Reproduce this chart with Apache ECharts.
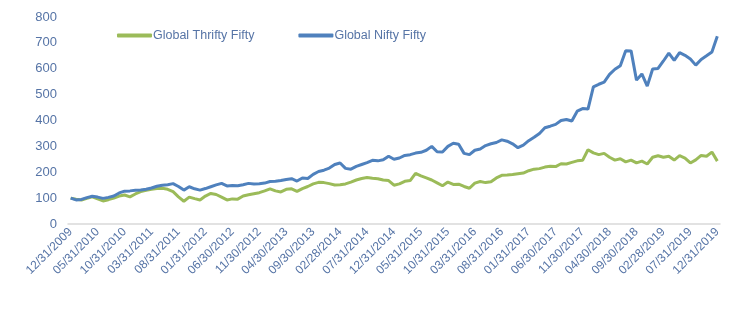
<!DOCTYPE html>
<html>
<head>
<meta charset="utf-8">
<script src="https://cdn.jsdelivr.net/npm/echarts@6/dist/echarts.min.js"></script>
<style>
html,body{margin:0;padding:0;background:#fff;}
#chart{width:751px;height:322px;}
</style>
</head>
<body>
<div id="chart"></div>
<script>
// Month-end dates 12/31/2009 .. 12/31/2019
function monthEnds(startYear, startMonth, count) {
  var out = [];
  for (var k = 0; k < count; k++) {
    var m = startMonth + k;
    var y = startYear + Math.floor(m / 12);
    var mm = m % 12;
    var last = new Date(Date.UTC(y, mm + 1, 0)).getUTCDate();
    out.push(String(mm + 1).padStart(2, '0') + '/' + String(last).padStart(2, '0') + '/' + y);
  }
  return out;
}
var categories = monthEnds(2009, 11, 121);

var seriesNames = ['Global Thrifty Fifty', 'Global Nifty Fifty'];

var thriftyValues = [
  100, 96, 93, 99, 105, 97, 89, 94, 100, 108,
  112, 105, 116, 125, 130, 134, 137, 138, 134, 125,
  105, 88, 104, 98, 93, 108, 118, 114, 104, 93,
  97, 96, 108, 113, 117, 121, 128, 136, 128, 124,
  134, 136, 126, 137, 145, 155, 161, 160, 156, 151,
  152, 155, 162, 170, 176, 180, 177, 175, 170, 168,
  150, 155, 165, 168, 196, 186, 178, 170, 159, 148,
  162, 153, 154, 145, 138, 158, 164, 160, 163, 178,
  188, 189, 191, 194, 197, 206, 212, 214, 220, 223,
  222, 233, 232, 238, 244, 246, 287, 275, 268, 273,
  258, 247, 252, 240, 247, 236, 243, 232, 258, 264,
  258, 262, 247, 264, 255, 236, 248, 265, 262, 278,
  243
];

var niftyValues = [
  100, 93, 95, 102, 107, 104, 99, 103, 108, 120,
  127, 128, 130, 131, 134, 139, 146, 150, 152, 156,
  145, 131, 144, 136, 131, 137, 144, 151, 157, 147,
  149, 148, 152, 157, 155, 156, 158, 164, 165, 168,
  172, 175, 166, 178, 176, 192, 203, 208, 216, 230,
  236, 215, 212, 223, 230, 237, 246, 244, 248, 262,
  250, 255, 265, 268, 274, 277, 285, 300, 279, 278,
  300, 312, 308, 273, 268, 285, 290, 303, 310, 315,
  325, 320, 310, 295, 305, 322, 335, 350, 372, 378,
  385, 400, 404, 398, 436, 446, 444, 530, 540, 548,
  578, 598, 612, 670, 669, 556, 580, 533, 599, 601,
  630, 660, 632, 662, 652, 638, 614, 636, 650, 665,
  726
];

var yTicks = { min: 0, max: 800, interval: 100 };
var colors = ['#9BBB59', '#4F81BD'];
var textColor = '#5674A6';

var chart = echarts.init(document.getElementById('chart'), null, { renderer: 'canvas' });
chart.setOption({
  animation: false,
  backgroundColor: '#ffffff',
  color: colors,
  textStyle: { fontFamily: 'Liberation Sans, Arial, sans-serif' },
  legend: {
    left: 117,
    top: 29,
    padding: 0,
    itemWidth: 35,
    itemHeight: 4,
    itemGap: 44,
    icon: 'roundRect',
    textStyle: { color: textColor, fontSize: 12.5, padding: [0, 0, 0, -4] },
    data: seriesNames
  },
  grid: { left: 68, right: 31, top: 17, bottom: 98, containLabel: false },
  xAxis: {
    type: 'category',
    data: categories,
    boundaryGap: true,
    axisLine: { show: true, lineStyle: { color: '#D9D9D9', width: 1.5 } },
    axisTick: { show: false },
    axisLabel: {
      interval: 4,
      rotate: 45,
      color: textColor,
      fontSize: 12,
      margin: 6
    },
    splitLine: { show: false }
  },
  yAxis: {
    type: 'value',
    min: yTicks.min,
    max: yTicks.max,
    interval: yTicks.interval,
    axisLine: { show: false },
    axisTick: { show: false },
    splitLine: { show: false },
    axisLabel: { color: textColor, fontSize: 13, margin: 11 }
  },
  series: [
    {
      name: seriesNames[0],
      type: 'line',
      data: thriftyValues,
      showSymbol: false,
      lineStyle: { width: 3, color: colors[0] },
      z: 2
    },
    {
      name: seriesNames[1],
      type: 'line',
      data: niftyValues,
      showSymbol: false,
      lineStyle: { width: 3, color: colors[1] },
      z: 3
    }
  ]
});
</script>
</body>
</html>
